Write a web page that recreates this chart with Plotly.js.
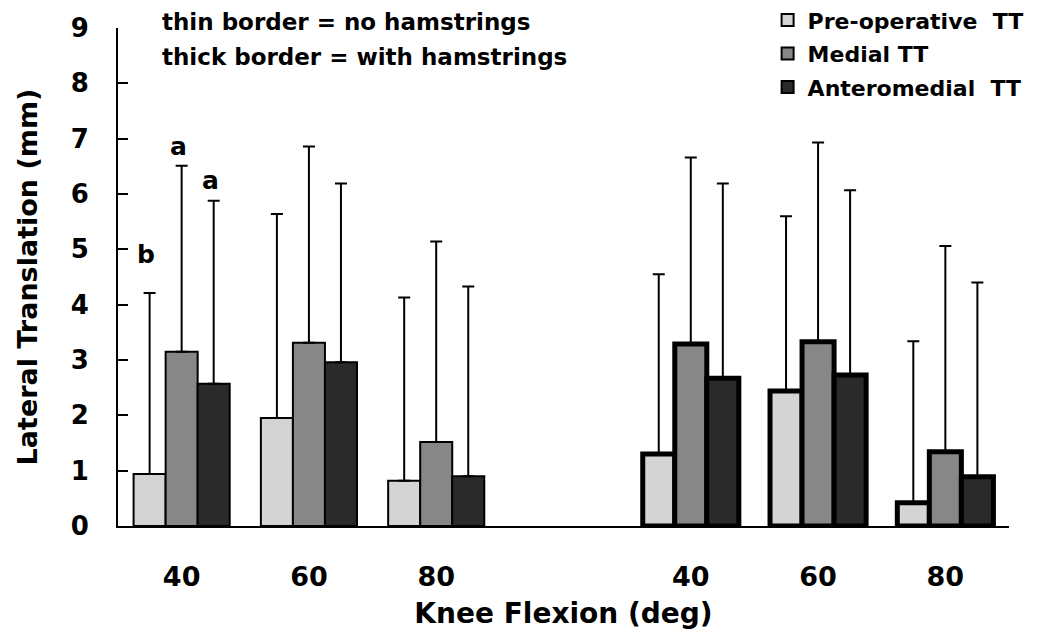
<!DOCTYPE html>
<html>
<head>
<meta charset="utf-8">
<script src="https://cdn.plot.ly/plotly-3.0.1.min.js"></script>
<style>html,body{margin:0;padding:0;background:#fff;}#chart{width:1039px;height:637px;}</style>
</head>
<body>
<div id="chart"></div>
<script>
// Knee flexion categories (blank slot separates the two conditions)
const categories = ['40', '60', '80', '', '40', '60', '80'];
// thin border = no hamstrings, thick border = with hamstrings
const withHamstrings = [false, false, false, null, true, true, true];

// Mean lateral translation (mm)
const preOperative = [0.94, 1.95, 0.82, null, 1.30, 2.44, 0.42];
const medial       = [3.15, 3.31, 1.52, null, 3.29, 3.33, 1.34];
const anteromedial = [2.57, 2.96, 0.90, null, 2.67, 2.73, 0.89];

// Standard deviations (upper error bars, mm)
const preOperativeSD = [3.27, 3.69, 3.31, null, 3.25, 3.16, 2.92];
const medialSD       = [3.36, 3.55, 3.62, null, 3.37, 3.60, 3.72];
const anteromedialSD = [3.31, 3.23, 3.43, null, 3.52, 3.34, 3.51];

const seriesNames = ['Pre-operative\u00a0 TT', 'Medial TT', 'Anteromedial\u00a0 TT'];
const seriesColors = ['#d4d4d4', '#878787', '#2a2a2a'];

const FONT = 'DejaVu Sans, Liberation Sans, Arial, sans-serif';
const xIdx = categories.map((c, i) => i);
const boundaries = categories.map((c, i) => i + 0.5);
const labelIdx = xIdx.filter(i => categories[i] !== '');
const borderWidths = withHamstrings.map(h => h === null ? 0 : (h ? 5 : 2));

function barTrace(name, y, sd, color, grp) {
  return {
    type: 'bar', name: name, x: xIdx, y: y,
    legendgroup: grp,
    marker: { color: color, line: { color: '#000', width: borderWidths } },
    error_y: {
      type: 'data', symmetric: false,
      array: sd, arrayminus: sd.map(v => v === null ? null : 0),
      color: '#000', thickness: 2, width: 6
    },
    hoverinfo: 'y'
  };
}

const data = [
  barTrace(seriesNames[0], preOperative, preOperativeSD, seriesColors[0], 'g1'),
  barTrace(seriesNames[1], medial, medialSD, seriesColors[1], 'g2'),
  barTrace(seriesNames[2], anteromedial, anteromedialSD, seriesColors[2], 'g3')
];

const layout = {
  width: 1039, height: 637,
  margin: { l: 118, r: 30, t: 28, b: 111, pad: 0, autoexpand: false },
  paper_bgcolor: '#fff', plot_bgcolor: '#fff',
  barmode: 'group', bargap: 0.245, bargroupgap: 0,
  font: { family: FONT, color: '#000', weight: 'bold' },
  showlegend: true,
  legend: {
    x: 1.022, xanchor: 'right', y: 1.058, yanchor: 'top',
    bgcolor: 'rgba(0,0,0,0)', tracegroupgap: 2,
    font: { family: FONT, size: 22, color: '#000', weight: 'bold' },
    itemclick: false, itemdoubleclick: false
  },
  xaxis: {
    range: [-0.5, 6.5],
    tickmode: 'array', tickvals: labelIdx, ticktext: labelIdx.map(i => categories[i]),
    ticks: '', showgrid: false, zeroline: false,
    showline: true, linecolor: '#000', linewidth: 2,
    tickfont: { family: FONT, size: 27, color: '#000', weight: 'bold' },
    ticklabelstandoff: 26,
    title: { text: 'Knee Flexion (deg)', font: { family: FONT, size: 28, color: '#000', weight: 'bold' }, standoff: 12 },
    fixedrange: true
  },
  // overlay axis carrying the category-boundary tick marks
  xaxis2: {
    overlaying: 'x', anchor: 'y', side: 'bottom',
    range: [-0.5, 6.5],
    tickmode: 'array', tickvals: boundaries,
    ticks: 'inside', ticklen: 11, tickwidth: 2, tickcolor: '#000',
    showticklabels: false, showgrid: false, zeroline: false, showline: false,
    fixedrange: true
  },
  yaxis: {
    range: [0, 9], dtick: 1, tick0: 0,
    ticks: 'inside', ticklen: 10, tickwidth: 2, tickcolor: '#000',
    showgrid: false, zeroline: false,
    showline: true, linecolor: '#000', linewidth: 2,
    tickfont: { family: FONT, size: 26, color: '#000', weight: 'bold' },
    ticklabelstandoff: 22,
    title: { text: 'Lateral Translation (mm)', font: { family: FONT, size: 27, color: '#000', weight: 'bold' }, standoff: 25 },
    fixedrange: true
  },
  annotations: [
    { xref: 'paper', yref: 'paper', x: 0.047, y: 1.012, xanchor: 'left', yanchor: 'middle', showarrow: false,
      text: 'thin border = no hamstrings', font: { family: FONT, size: 23, color: '#000', weight: 'bold' } },
    { xref: 'paper', yref: 'paper', x: 0.047, y: 0.942, xanchor: 'left', yanchor: 'middle', showarrow: false,
      text: 'thick border = with hamstrings', font: { family: FONT, size: 23, color: '#000', weight: 'bold' } },
    { xref: 'paper', yref: 'y', x: 0.019, y: 4.9, showarrow: false, text: 'b', font: { family: FONT, size: 25, color: '#000', weight: 'bold' } },
    { xref: 'paper', yref: 'y', x: 0.056, y: 6.85, showarrow: false, text: 'a', font: { family: FONT, size: 25, color: '#000', weight: 'bold' } },
    { xref: 'paper', yref: 'y', x: 0.092, y: 6.25, showarrow: false, text: 'a', font: { family: FONT, size: 25, color: '#000', weight: 'bold' } }
  ]
};

Plotly.newPlot('chart', data, layout, { displayModeBar: false, staticPlot: true });
</script>
</body>
</html>
